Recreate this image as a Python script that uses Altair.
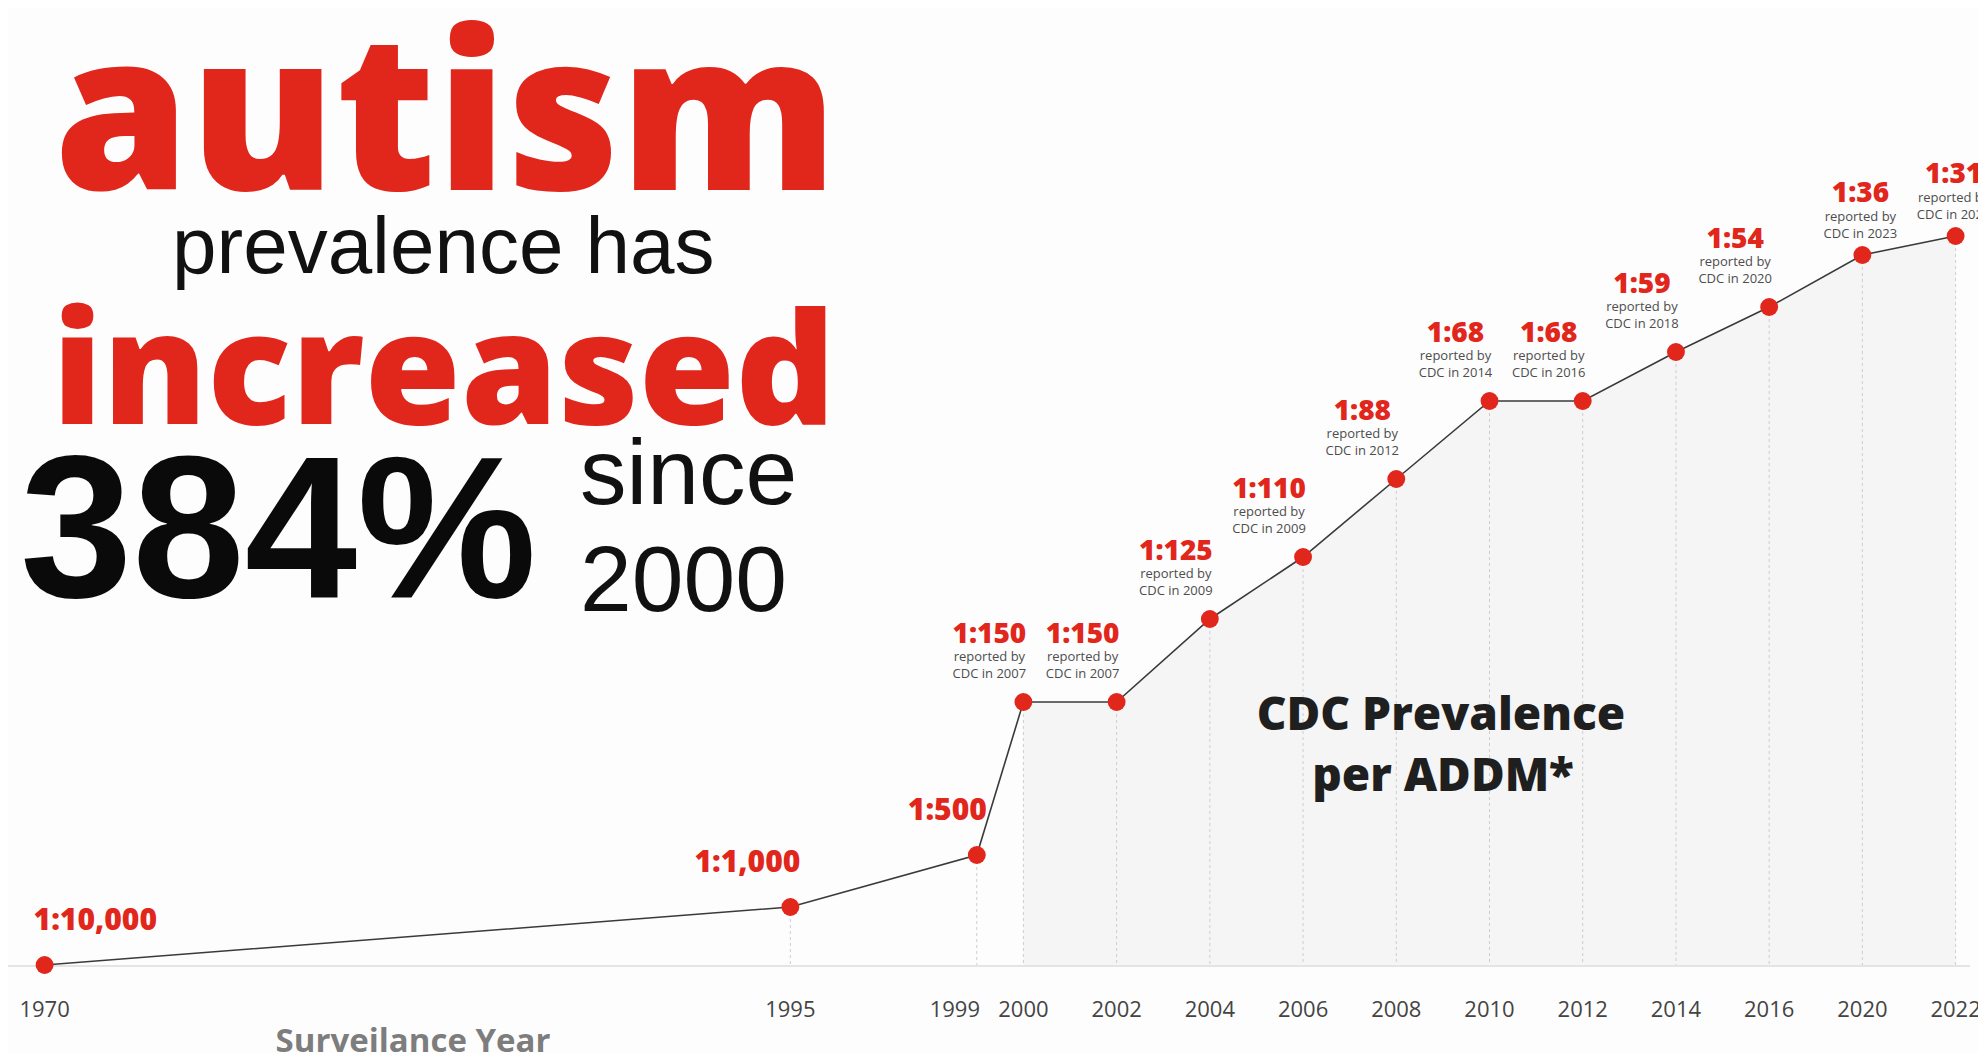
import altair as alt
import pandas as pd

# ---- data ----
years = [1970, 1995, 1999, 2000, 2002, 2004, 2006, 2008, 2010, 2012, 2014, 2016, 2020, 2022]
ratios = ["1:10,000", "1:1,000", "1:500", "1:150", "1:150", "1:125", "1:110",
          "1:88", "1:68", "1:68", "1:59", "1:54", "1:36", "1:31"]
reported_year = [None, None, None, 2007, 2007, 2009, 2009, 2012, 2014, 2016, 2018, 2020, 2023, 2025]
# position of each surveillance year along the (non-linear) axis of the graphic
axis_slot = [-10.5, -2.5, -0.5, 0, 1, 2, 3, 4, 5, 6, 7, 8, 9, 10]
# height of each point above the baseline in the graphic
level = [1, 59, 111, 264, 264, 347, 409, 487, 565, 565, 614, 659, 711, 730]

df = pd.DataFrame({
    "year": [str(y) for y in years],
    "ratio": ratios,
    "slot": axis_slot,
    "level": level,
    "rep1": ["reported by" if r else "" for r in reported_year],
    "rep2": [f"CDC in {r}" if r else "" for r in reported_year],
})

RED = "#e1261c"
W, H = 1970, 1045

x = alt.X("slot:Q", scale=alt.Scale(domain=[-10.5, 10], range=[36.6, 1947.6]), axis=None)
y = alt.Y("level:Q", scale=alt.Scale(domain=[0, 958], range=[958, 0]), axis=None)

base = alt.Chart(df)
one = alt.Data(values=[{}])

area = base.transform_filter("datum.slot >= 0").mark_area(color="#f5f5f5").encode(x=x, y=y)
drops = base.transform_filter("datum.slot > -10").mark_rule(
    color="#cdcdcd", strokeDash=[3, 3], strokeWidth=1).encode(x=x, y=y, y2=alt.datum(0))
baseline = alt.Chart(one).mark_rule(color="#e4e4e4", strokeWidth=2).encode(
    x=alt.value(0), x2=alt.value(1962), y=alt.value(958))
line = base.mark_line(color="#3a3a3a", strokeWidth=1.6).encode(x=x, y=y)
points = base.mark_circle(color=RED, opacity=1, size=320).encode(x=x, y=y)


def txt(chart, field, size, weight, color, dx, dy, align="center"):
    return chart.mark_text(font="Open Sans", fontSize=size, fontWeight=weight, color=color,
                           dx=dx, dy=dy, align=align, baseline="middle").encode(
        x=x, y=y, text=f"{field}:N")


mid = base.transform_filter("datum.slot >= 0 && datum.slot <= 8")
end = base.transform_filter("datum.slot >= 9")
first = base.transform_filter("datum.slot < -10")
early = base.transform_filter("datum.slot > -10 && datum.slot < 0")

GREY = "#4d4d4d"
labels = [
    txt(mid, "ratio", 28, 800, RED, -34, -67),
    txt(mid, "rep1", 13, 400, GREY, -34, -45),
    txt(mid, "rep2", 13, 400, GREY, -34, -28.5),
    txt(end, "ratio", 28, 800, RED, -2, -61),
    txt(end, "rep1", 13, 400, GREY, -2, -38),
    txt(end, "rep2", 13, 400, GREY, -2, -21),
    txt(first, "ratio", 30, 800, RED, -11, -44, align="left"),
    txt(early, "ratio", 30, 800, RED, 10, -44, align="right"),
]

ticks_main = base.transform_filter("datum.year != '1999'").mark_text(
    font="Open Sans", fontSize=22, color="#444444", baseline="middle").encode(
    x=x, y=alt.value(1001.5), text="year:N")
ticks_1999 = base.transform_filter("datum.year == '1999'").mark_text(
    font="Open Sans", fontSize=22, color="#444444", baseline="middle", dx=-22).encode(
    x=x, y=alt.value(1001.5), text="year:N")


def static(text, px, py, size, weight, color, font, align="left", bl="alphabetic"):
    return alt.Chart(one).mark_text(text=text, font=font, fontSize=size, fontWeight=weight,
                                    color=color, align=align, baseline=bl).encode(
        x=alt.value(px), y=alt.value(py))


statics = [
    static("autism", 46, 182, 218, 800, RED, "Open Sans"),
    static("prevalence has", 164, 265, 80, 400, "#111111", "Liberation Sans"),
    static("increased", 44, 416, 156, 800, RED, "Open Sans"),
    static("384%", 12, 589, 202, 700, "#0a0a0a", "Liberation Sans"),
    static("since", 572, 496, 93, 400, "#111111", "Liberation Sans"),
    static("2000", 572, 603, 93, 400, "#111111", "Liberation Sans"),
    static("CDC Prevalence", 1433, 722, 46, 800, "#1f1f1f", "Open Sans", align="center"),
    static("per ADDM*", 1435, 783, 46, 800, "#1f1f1f", "Open Sans", align="center"),
    static("Surveilance Year", 405, 1044, 33, 700, "#7d7d7d", "Open Sans", align="center"),
]

chart = alt.layer(
    area, drops, baseline, line, points, *labels, ticks_main, ticks_1999, *statics
).properties(
    width=W, height=H, padding=0, background="#fdfdfd",
    autosize=alt.AutoSizeParams(type="none"),
).configure_view(stroke=None)

chart.save("out.html", embed_options={"renderer": "svg", "actions": False})
